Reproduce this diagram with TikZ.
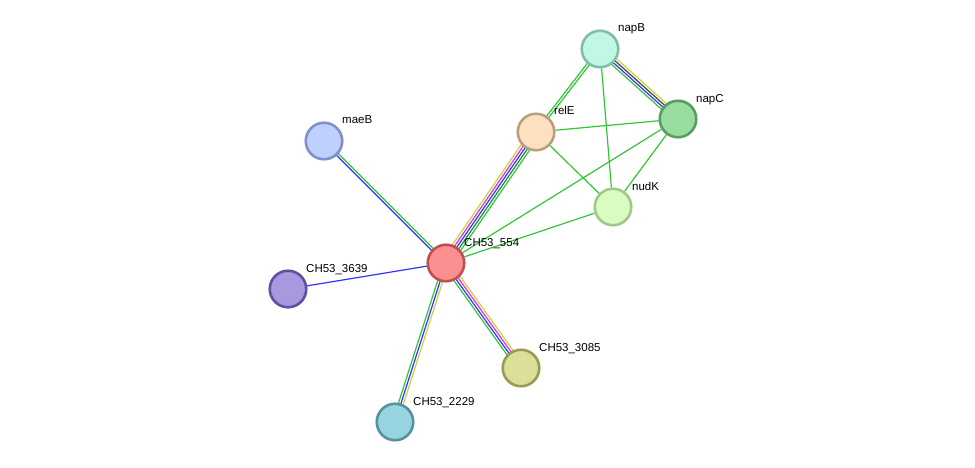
\documentclass[tikz,border=0pt]{standalone}
\usepackage{fontspec}
\setmainfont{Liberation Sans}
\usetikzlibrary{calc}
\pgfdeclarelayer{background}
\pgfsetlayers{background,main}
\definecolor{cgreen}{HTML}{33C633}
\definecolor{cdgreen}{HTML}{1E8A3C}
\definecolor{cblue}{HTML}{3333FF}
\definecolor{cyellow}{HTML}{C4D43C}
\definecolor{cmag}{HTML}{DD33DD}
\definecolor{cdark}{HTML}{444444}
\tikzset{
  prot/.style={circle, minimum size=36.5pt, inner sep=0pt, line width=2.6pt},
  lab/.style={anchor=base west, inner sep=0pt, font=\fontsize{11.5}{12}\selectfont},
  ln/.style={line width=1.2pt}
}
\newcommand\edgeline[4]{\draw[ln,#4] ($(#1)!#3!90:(#2)$) -- ($(#2)!#3!-90:(#1)$);}
\begin{document}
\begin{tikzpicture}[x=1pt,y=-1pt]
\useasboundingbox (0,0) rectangle (975,468);
\node[prot, draw={rgb,255:red,127;green,191;blue,168}, fill={rgb,255:red,192;green,248;blue,228}] (napB) at (600,49) {};
\node[prot, draw={rgb,255:red,88;green,158;blue,98}, fill={rgb,255:red,153;green,221;blue,158}] (napC) at (678,119) {};
\node[prot, draw={rgb,255:red,184;green,160;blue,128}, fill={rgb,255:red,253;green,224;blue,192}] (relE) at (536,132) {};
\node[prot, draw={rgb,255:red,128;green,144;blue,200}, fill={rgb,255:red,192;green,208;blue,252}] (maeB) at (324,141) {};
\node[prot, draw={rgb,255:red,160;green,200;blue,136}, fill={rgb,255:red,217;green,252;blue,192}] (nudK) at (613,207) {};
\node[prot, draw={rgb,255:red,192;green,80;blue,80}, fill={rgb,255:red,252;green,144;blue,144}] (c554) at (446,263) {};
\node[prot, draw={rgb,255:red,96;green,80;blue,160}, fill={rgb,255:red,168;green,152;blue,224}] (c3639) at (288,289) {};
\node[prot, draw={rgb,255:red,154;green,154;blue,88}, fill={rgb,255:red,220;green,223;blue,152}] (c3085) at (521,368) {};
\node[prot, draw={rgb,255:red,88;green,144;blue,160}, fill={rgb,255:red,152;green,212;blue,224}] (c2229) at (395,422) {};

\node[lab] (lnapB) at (618,32) {napB};
\node[lab] (lnapC) at (696,103) {napC};
\node[lab] (lrelE) at (554,115) {relE};
\node[lab] (lmaeB) at (342,124) {maeB};
\node[lab] (lnudK) at (632,190) {nudK};
\node[lab] (l554) at (464,246) {CH53\_554};
\node[lab] (l3639) at (306,272) {CH53\_3639};
\node[lab] (l3085) at (539,351) {CH53\_3085};
\node[lab] (l2229) at (413,405) {CH53\_2229};

\begin{pgfonlayer}{background}
% CH53_554 - relE
\edgeline{c554}{relE}{5pt}{cyellow}
\edgeline{c554}{relE}{2.5pt}{cmag}
\edgeline{c554}{relE}{0pt}{cblue}
\edgeline{c554}{relE}{-2.5pt}{cdgreen}
\edgeline{c554}{relE}{-5pt}{cgreen}
% relE - napB
\edgeline{relE}{napB}{1.25pt}{cgreen}
\edgeline{relE}{napB}{-1.25pt}{cgreen}
% napB - napC
\edgeline{napB}{napC}{3.75pt}{cyellow}
\edgeline{napB}{napC}{1.25pt}{cdark}
\edgeline{napB}{napC}{-1.25pt}{cblue}
\edgeline{napB}{napC}{-3.75pt}{cgreen}
% CH53_554 - CH53_3085
\edgeline{c554}{c3085}{3.75pt}{cyellow}
\edgeline{c554}{c3085}{1.25pt}{cmag}
\edgeline{c554}{c3085}{-1.25pt}{cblue}
\edgeline{c554}{c3085}{-3.75pt}{cgreen}
% CH53_554 - CH53_2229
\edgeline{c554}{c2229}{2.5pt}{cyellow}
\edgeline{c554}{c2229}{0pt}{cblue}
\edgeline{c554}{c2229}{-2.5pt}{cgreen}
% CH53_554 - maeB
\edgeline{c554}{maeB}{1.25pt}{cblue}
\edgeline{c554}{maeB}{-1.25pt}{cgreen}
% CH53_554 - CH53_3639
\edgeline{c554}{c3639}{0pt}{cblue}
% single green
\draw[ln,cgreen] (c554) -- (napC);
\draw[ln,cgreen] (c554) -- (nudK);
\draw[ln,cgreen] (relE) -- (napC);
\draw[ln,cgreen] (relE) -- (nudK);
\draw[ln,cgreen] (napB) -- (nudK);
\draw[ln,cgreen] (napC) -- (nudK);
\end{pgfonlayer}
\end{tikzpicture}
\end{document}
